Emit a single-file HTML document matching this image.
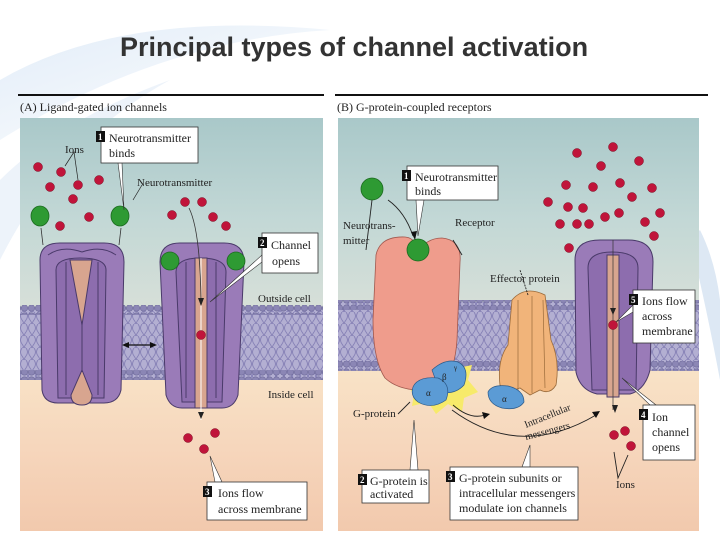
<!DOCTYPE html>
<html><head><meta charset="utf-8"><style>
html,body{margin:0;padding:0;background:#fff;}
svg{display:block;}
text{font-family:"Liberation Serif",serif;fill:#222;}
</style></head><body>
<svg width="720" height="540" viewBox="0 0 720 540" xmlns="http://www.w3.org/2000/svg">
<defs>
<linearGradient id="bgA" x1="0" y1="0" x2="0" y2="1">
<stop offset="0" stop-color="#a9c8c9"/><stop offset="0.25" stop-color="#c3d8d6"/><stop offset="0.45" stop-color="#d6dfd8"/>
<stop offset="0.62" stop-color="#f8e2c6"/><stop offset="0.8" stop-color="#f6d6bc"/><stop offset="1" stop-color="#f2c9ad"/>
</linearGradient>
<pattern id="heads" width="7" height="8" patternUnits="userSpaceOnUse">
<circle cx="3.5" cy="4" r="3.2" fill="#8b86b5" stroke="#6e6a9a" stroke-width="0.6"/>
</pattern>
<pattern id="tails" width="8" height="12" patternUnits="userSpaceOnUse">
<rect width="8" height="12" fill="#b3afd2"/>
<path d="M2 0 Q5 4 2 8 T2 12 M6 0 Q3 4 6 8 T6 12" stroke="#8580b5" stroke-width="0.9" fill="none"/>
</pattern>
<linearGradient id="sw" x1="0" y1="0" x2="1" y2="1"><stop offset="0" stop-color="#dbe8f6"/><stop offset="1" stop-color="#fff"/></linearGradient>
</defs>
<path d="M0 80 Q120 10 330 30 Q160 40 0 140 Z" fill="url(#sw)" opacity="0.8"/>
<path d="M0 180 Q60 120 170 80 Q60 140 0 260 Z" fill="#e6eef8" opacity="0.7"/>
<path d="M700 230 Q715 260 720 300 L720 380 Q705 300 690 240 Z" fill="#dde8f4"/>
<text x="354" y="56" text-anchor="middle" style="font-family:'Liberation Sans',sans-serif;font-weight:bold;font-size:27px;fill:#333">Principal types of channel activation</text>

<!-- Panel A -->
<rect x="18" y="94" width="306" height="2" fill="#111"/>
<text x="20" y="111" font-size="12">(A)  Ligand-gated ion channels</text>
<rect x="20" y="118" width="303" height="413" fill="url(#bgA)"/>
<rect x="20" y="307" width="303" height="73" fill="url(#tails)"/>
<rect x="20" y="305" width="303" height="10" fill="url(#heads)"/>
<rect x="20" y="370" width="303" height="10" fill="url(#heads)"/>

<g stroke="#4a3a6a" stroke-width="1">
<path d="M40 260 Q40 243 60 243 L104 243 Q124 243 124 262 L121 390 Q118 403 104 403 L58 403 Q44 403 42 390 Z" fill="#9a7bb8"/>
<path d="M56 270 Q56 258 80 258 Q106 258 106 270 L104 398 L58 398 Z" fill="#8d6dae"/>
<path d="M70 260 L92 260 L82 325 Z" fill="#d8a58f"/>
<path d="M82 370 L92 395 Q92 405 82 405 Q71 405 71 395 Z" fill="#d8a58f"/>
<line x1="82" y1="325" x2="82" y2="372"/>
<path d="M48 255 Q62 245 82 252 M116 255 Q102 245 82 252" fill="none"/>
<path d="M66 262 L66 395 M98 262 L98 395" fill="none"/>
</g>
<g stroke="#4a3a6a" stroke-width="1">
<path d="M160 262 Q160 243 180 243 L224 243 Q244 243 244 262 L238 395 Q234 408 222 408 L182 408 Q170 408 166 395 Z" fill="#9a7bb8"/>
<path d="M176 272 Q176 258 200 258 Q226 258 226 272 L222 402 L182 402 Z" fill="#8d6dae"/>
<rect x="195" y="258" width="12" height="150" fill="#d8a58f"/>
<path d="M186 262 L186 398 M216 262 L216 398" fill="none"/>
</g>
<line x1="201" y1="258" x2="201" y2="420" stroke="#fff" stroke-width="1"/>
<path d="M189 208 Q200 230 201 300" stroke="#333" fill="none" stroke-width="0.8"/>
<path d="M198 298 L201 306 L204 298 Z" fill="#222"/>
<path d="M198 412 L201 419 L204 412 Z" fill="#222"/>

<g fill="#2e9a33" stroke="#1b6a1f" stroke-width="0.8">
<ellipse cx="40" cy="216" rx="9" ry="10"/><ellipse cx="120" cy="216" rx="9" ry="10"/>
<circle cx="170" cy="261" r="9"/><circle cx="236" cy="261" r="9"/>
</g>
<g stroke="#333" stroke-width="0.8"><line x1="41" y1="228" x2="43" y2="245"/><line x1="121" y1="228" x2="119" y2="245"/></g>
<g fill="#c0143a" stroke="#7a0a20" stroke-width="0.5">
<circle cx="38" cy="167" r="4.5"/><circle cx="61" cy="172" r="4.5"/><circle cx="50" cy="187" r="4.5"/><circle cx="78" cy="185" r="4.5"/>
<circle cx="99" cy="180" r="4.5"/><circle cx="73" cy="199" r="4.5"/><circle cx="89" cy="217" r="4.5"/><circle cx="60" cy="226" r="4.5"/>
<circle cx="185" cy="202" r="4.5"/><circle cx="202" cy="202" r="4.5"/><circle cx="172" cy="215" r="4.5"/><circle cx="213" cy="217" r="4.5"/><circle cx="226" cy="226" r="4.5"/>
<circle cx="201" cy="335" r="4.5"/><circle cx="188" cy="438" r="4.5"/><circle cx="215" cy="433" r="4.5"/><circle cx="204" cy="449" r="4.5"/>
</g>
<g stroke="#222" stroke-width="0.7" fill="none"><path d="M65 166 L74 152 L78 180"/><path d="M133 200 L142 185"/></g>
<line x1="126" y1="345" x2="153" y2="345" stroke="#111" stroke-width="1.2"/>
<path d="M122 345 L129 342 L129 348Z M157 345 L150 342 L150 348Z" fill="#111"/>
<path d="M118 163 L122 163 L124 210 Z" fill="#fff" stroke="#333" stroke-width="0.6"/>
<rect x="101" y="127" width="97" height="36" fill="#fff" stroke="#333" stroke-width="0.8"/>
<rect x="96" y="131" width="9" height="11" fill="#111"/><text x="98" y="140" font-size="9" style="fill:#fff;font-weight:bold">1</text>
<text x="109" y="142" font-size="12">Neurotransmitter</text><text x="109" y="157" font-size="12">binds</text>
<text x="65" y="153" font-size="11">Ions</text>
<text x="137" y="186" font-size="11">Neurotransmitter</text>
<path d="M262 255 L262 262 L210 302 Z" fill="#fff" stroke="#333" stroke-width="0.6"/>
<rect x="262" y="233" width="56" height="40" fill="#fff" stroke="#333" stroke-width="0.8"/>
<rect x="258" y="237" width="9" height="11" fill="#111"/><text x="260" y="246" font-size="9" style="fill:#fff;font-weight:bold">2</text>
<text x="271" y="249" font-size="12">Channel</text><text x="272" y="265" font-size="12">opens</text>
<text x="258" y="302" font-size="11">Outside cell</text>
<text x="268" y="398" font-size="11">Inside cell</text>
<path d="M215 482 L222 482 L210 456 Z" fill="#fff" stroke="#333" stroke-width="0.6"/>
<rect x="207" y="482" width="100" height="38" fill="#fff" stroke="#333" stroke-width="0.8"/>
<rect x="203" y="486" width="9" height="11" fill="#111"/><text x="205" y="495" font-size="9" style="fill:#fff;font-weight:bold">3</text>
<text x="218" y="497" font-size="12">Ions flow</text><text x="218" y="513" font-size="12">across membrane</text>

<!-- Panel B -->
<rect x="335" y="94" width="373" height="2" fill="#111"/>
<text x="337" y="111" font-size="12">(B)  G-protein-coupled receptors</text>
<rect x="338" y="118" width="361" height="413" fill="url(#bgA)"/>
<rect x="338" y="302" width="361" height="68" fill="url(#tails)"/>
<rect x="338" y="300" width="361" height="10" fill="url(#heads)"/>
<rect x="338" y="361" width="361" height="10" fill="url(#heads)"/>
<path d="M402 380 L412 372 L420 360 L432 368 L446 358 L458 368 L472 365 L468 380 L478 392 L464 398 L462 412 L448 404 L436 414 L428 402 L412 406 L414 394 Z" fill="#f7ea6a"/>
<path d="M376 255 Q380 236 405 237 Q418 238 416 255 Q425 238 442 238 Q462 240 460 262 L457 340 Q454 385 430 390 Q400 392 385 378 Q373 360 373 320 Z" fill="#ef9c8c" stroke="#a0584e" stroke-width="0.8"/>
<circle cx="418" cy="250" r="11" fill="#2e9a33" stroke="#1b6a1f" stroke-width="0.8"/>
<circle cx="372" cy="189" r="11" fill="#2e9a33" stroke="#1b6a1f" stroke-width="0.8"/>
<path d="M432 370 Q445 358 458 362 Q470 368 464 385 Q455 395 440 392 Z" fill="#5b9bd5" stroke="#2c5a8a" stroke-width="0.7"/>
<path d="M413 387 Q418 376 438 378 Q452 384 446 400 Q432 410 418 402 Q410 396 413 387 Z" fill="#5b9bd5" stroke="#2c5a8a" stroke-width="0.7"/>
<text x="426" y="396" font-size="9">α</text><text x="442" y="380" font-size="9">β</text><text x="454" y="370" font-size="7">γ</text>
<path d="M500 385 Q497 360 508 345 L512 300 Q525 285 545 295 L551 340 Q560 360 556 385 Q550 395 540 390 L530 395 L520 388 L508 392 Z" fill="#f1b47a" stroke="#9a6a3a" stroke-width="0.8"/>
<path d="M518 300 L518 390 M532 296 L532 393 M543 300 L545 388" stroke="#9a6a3a" stroke-width="0.7" fill="none"/>
<path d="M488 392 Q492 384 508 386 Q524 390 524 402 Q518 411 502 408 Q488 404 488 392 Z" fill="#5b9bd5" stroke="#2c5a8a" stroke-width="0.7"/>
<text x="502" y="402" font-size="9">α</text>
<g stroke="#4a3a6a" stroke-width="1">
<path d="M575 260 Q575 240 600 240 L628 240 Q653 240 653 262 L650 370 Q645 390 630 394 L597 394 Q580 390 576 372 Z" fill="#9a7bb8"/>
<path d="M588 268 Q588 252 612 252 Q638 252 638 268 L636 390 L592 390 Z" fill="#8d6dae"/>
<rect x="607" y="255" width="12" height="142" fill="#d8a58f"/>
</g>
<line x1="613" y1="240" x2="613" y2="410" stroke="#333" stroke-width="0.7"/>
<path d="M610 308 L613 315 L616 308 Z M612 405 L615 413 L618 405 Z" fill="#222"/>
<g fill="#c0143a" stroke="#7a0a20" stroke-width="0.5">
<circle cx="577" cy="153" r="4.5"/><circle cx="613" cy="147" r="4.5"/><circle cx="601" cy="166" r="4.5"/><circle cx="639" cy="161" r="4.5"/>
<circle cx="566" cy="185" r="4.5"/><circle cx="593" cy="187" r="4.5"/><circle cx="620" cy="183" r="4.5"/><circle cx="652" cy="188" r="4.5"/><circle cx="632" cy="197" r="4.5"/>
<circle cx="548" cy="202" r="4.5"/><circle cx="568" cy="207" r="4.5"/><circle cx="583" cy="208" r="4.5"/><circle cx="605" cy="217" r="4.5"/><circle cx="619" cy="213" r="4.5"/><circle cx="660" cy="213" r="4.5"/>
<circle cx="560" cy="224" r="4.5"/><circle cx="577" cy="224" r="4.5"/><circle cx="589" cy="224" r="4.5"/><circle cx="645" cy="222" r="4.5"/><circle cx="654" cy="236" r="4.5"/><circle cx="569" cy="248" r="4.5"/>
<circle cx="613" cy="325" r="4.5"/><circle cx="614" cy="435" r="4.5"/><circle cx="625" cy="431" r="4.5"/><circle cx="631" cy="446" r="4.5"/>
</g>
<g stroke="#222" stroke-width="0.9" fill="none">
<path d="M388 200 Q405 212 413 236"/>
<path d="M453 405 Q470 420 485 415"/>
<path d="M452 410 Q520 460 596 415"/>
<path d="M528 295 L520 270" stroke-dasharray="2,1"/>
<path d="M366 250 L372 200"/>
<path d="M398 414 L410 402"/>
<path d="M614 452 L618 478 L628 455"/>
<path d="M462 255 L453 240"/>
</g>
<path d="M411 232 L415 240 L417 231Z M482 412 L490 414 L484 419Z M592 412 L600 411 L596 418Z" fill="#111"/>
<text x="526" y="428" font-size="10" transform="rotate(-22 526 428)">Intracellular</text>
<text x="526" y="440" font-size="10" transform="rotate(-15 526 440)">messengers</text>
<path d="M416 200 L424 200 L418 236 Z" fill="#fff" stroke="#333" stroke-width="0.6"/>
<rect x="407" y="166" width="91" height="34" fill="#fff" stroke="#333" stroke-width="0.8"/>
<rect x="402" y="170" width="9" height="11" fill="#111"/><text x="404" y="179" font-size="9" style="fill:#fff;font-weight:bold">1</text>
<text x="415" y="181" font-size="12">Neurotransmitter</text><text x="415" y="195" font-size="12">binds</text>
<text x="343" y="229" font-size="11">Neurotrans-</text><text x="343" y="244" font-size="11">mitter</text>
<text x="455" y="226" font-size="11">Receptor</text>
<text x="490" y="282" font-size="11">Effector protein</text>
<text x="353" y="417" font-size="11">G-protein</text>
<path d="M410 470 L418 470 L414 420 Z" fill="#fff" stroke="#333" stroke-width="0.6"/>
<rect x="362" y="470" width="67" height="33" fill="#fff" stroke="#333" stroke-width="0.8"/>
<rect x="358" y="474" width="9" height="11" fill="#111"/><text x="360" y="483" font-size="9" style="fill:#fff;font-weight:bold">2</text>
<text x="370" y="485" font-size="12">G-protein is</text><text x="370" y="498" font-size="12">activated</text>
<path d="M522 467 L530 467 L530 445 Z" fill="#fff" stroke="#333" stroke-width="0.6"/>
<rect x="450" y="467" width="128" height="53" fill="#fff" stroke="#333" stroke-width="0.8"/>
<rect x="446" y="471" width="9" height="11" fill="#111"/><text x="448" y="480" font-size="9" style="fill:#fff;font-weight:bold">3</text>
<text x="459" y="482" font-size="12">G-protein subunits or</text><text x="459" y="497" font-size="12">intracellular messengers</text><text x="459" y="512" font-size="12">modulate ion channels</text>
<path d="M633 305 L633 312 L616 322 Z" fill="#fff" stroke="#333" stroke-width="0.6"/>
<rect x="633" y="290" width="62" height="53" fill="#fff" stroke="#333" stroke-width="0.8"/>
<rect x="629" y="294" width="9" height="11" fill="#111"/><text x="631" y="303" font-size="9" style="fill:#fff;font-weight:bold">5</text>
<text x="642" y="305" font-size="12">Ions flow</text><text x="642" y="320" font-size="12">across</text><text x="642" y="335" font-size="12">membrane</text>
<path d="M650 405 L656 405 L622 378 Z" fill="#fff" stroke="#333" stroke-width="0.6"/>
<rect x="643" y="405" width="52" height="55" fill="#fff" stroke="#333" stroke-width="0.8"/>
<rect x="639" y="409" width="9" height="11" fill="#111"/><text x="641" y="418" font-size="9" style="fill:#fff;font-weight:bold">4</text>
<text x="652" y="421" font-size="12">Ion</text><text x="652" y="436" font-size="12">channel</text><text x="652" y="451" font-size="12">opens</text>
<text x="616" y="488" font-size="11">Ions</text>
</svg>
</body></html>
